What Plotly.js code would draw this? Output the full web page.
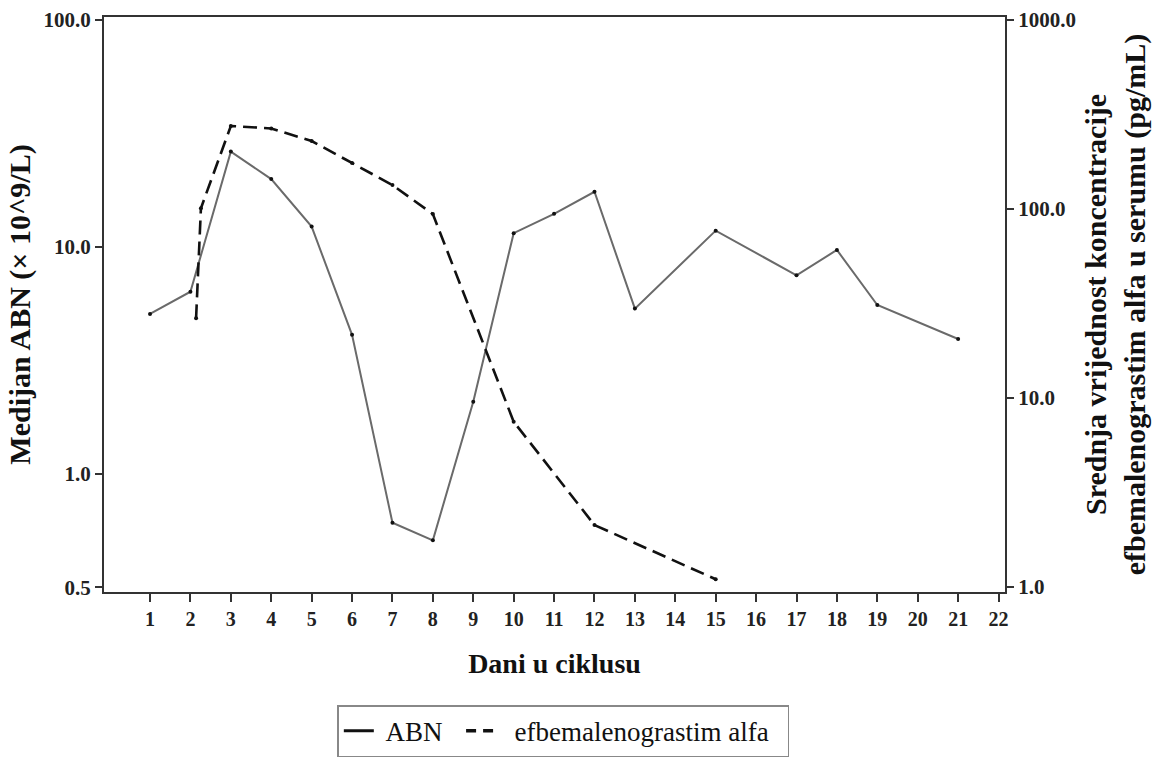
<!DOCTYPE html>
<html>
<head>
<meta charset="utf-8">
<script src="https://cdn.plot.ly/plotly-3.0.1.min.js"></script>
<style>html,body{margin:0;padding:0;background:#fff;}#chart{width:1152px;height:760px;}</style>
</head>
<body>
<div id="chart"></div>
<script>
// ABN (median, ×10^9/L) by day of cycle
const abnDays = [1, 2, 3, 4, 5, 6, 7, 8, 9, 10, 11, 12, 13, 15, 17, 18, 19, 21];
const abnValues = [5.07, 6.35, 26.3, 19.9, 12.3, 4.1, 0.61, 0.51, 2.08, 11.5, 14.0, 17.5, 5.35, 11.8, 7.5, 9.7, 5.55, 3.93];

// Mean serum efbemalenograstim alfa concentration (pg/mL)
const efbDays = [2.14, 2.26, 3, 4, 5, 6, 7, 8, 10, 12, 15];
const efbValues = [26.4, 101, 275, 267, 229, 175, 134, 94, 7.5, 2.13, 1.1];

const xTickVals = [1,2,3,4,5,6,7,8,9,10,11,12,13,14,15,16,17,18,19,20,21,22];
const xTickText = xTickVals.map(String);
const leftTickVals = [Math.pow(10,-0.5), 1, 10, 100];
const leftTickText = ["0.5", "1.0", "10.0", "100.0"];
const rightTickVals = [1, 10, 100, 1000];
const rightTickText = ["1.0", "10.0", "100.0", "1000.0"];

const seriesNames = ["ABN", "efbemalenograstim alfa"];
const xTitle = "Dani u ciklusu";
const yTitle = "Medijan ABN (× 10^9/L)";
const y2Title = "Srednja vrijednost koncentracije<br>efbemalenograstim alfa u serumu (pg/mL)";

const serif = "Liberation Serif, Times New Roman, serif";
const yTickFont = {family: serif, size: 21, color: "#222", weight: "bold"};
const xTickFont = {family: serif, size: 20, color: "#222", weight: "bold"};
const titleFont = {family: serif, size: 30, color: "#111", weight: "bold"};
const NB = "\u00a0";

const traces = [
  {
    x: abnDays, y: abnValues, name: seriesNames[0], yaxis: "y",
    type: "scatter", mode: "lines+markers", showlegend: false,
    line: {color: "#6a6a6a", width: 2},
    marker: {color: "#111", size: 4}
  },
  {
    x: efbDays, y: efbValues, name: seriesNames[1], yaxis: "y2",
    type: "scatter", mode: "lines+markers", showlegend: false,
    line: {color: "#111", width: 2.6, dash: "14px,7px"},
    marker: {color: "#111", size: 4}
  },
  // legend-only entries (black sample lines, no markers, as in the reference legend)
  {
    x: [null], y: [null], name: NB + seriesNames[0] + NB + NB, yaxis: "y",
    type: "scatter", mode: "lines",
    line: {color: "#111", width: 3}
  },
  {
    x: [null], y: [null], name: NB + NB + seriesNames[1] + NB + NB, yaxis: "y2",
    type: "scatter", mode: "lines",
    line: {color: "#111", width: 3.5, dash: "10px,7px"}
  }
];

const layout = {
  width: 1152, height: 760,
  paper_bgcolor: "#fff", plot_bgcolor: "#fff",
  margin: {l: 104, r: 147, t: 17, b: 168},
  showlegend: true,
  legend: {
    orientation: "h",
    xref: "container", yref: "container",
    x: 0.489, xanchor: "center", y: 0.072, yanchor: "top",
    bordercolor: "#888", borderwidth: 1.5,
    font: {family: serif, size: 27, color: "#111"}
  },
  xaxis: {
    range: [-0.139, 22.16],
    tickvals: xTickVals, ticktext: xTickText,
    ticks: "outside", ticklen: 8, tickwidth: 2, tickcolor: "#333",
    showline: true, linecolor: "#333", linewidth: 2, mirror: true,
    showgrid: false, zeroline: false,
    tickfont: xTickFont,
    title: {text: xTitle, font: {family: serif, size: 28, color: "#111", weight: "bold"}, standoff: 24}
  },
  yaxis: {
    type: "log", range: [-0.520, 2.013],
    tickvals: leftTickVals, ticktext: leftTickText,
    ticks: "outside", ticklen: 7, tickwidth: 2, tickcolor: "#333",
    showline: true, linecolor: "#333", linewidth: 2,
    showgrid: false, zeroline: false,
    tickfont: yTickFont,
    title: {text: yTitle, font: titleFont, standoff: 4}
  },
  yaxis2: {
    type: "log", range: [-0.026, 3.016],
    overlaying: "y", side: "right",
    tickvals: rightTickVals, ticktext: rightTickText,
    ticks: "outside", ticklen: 7, tickwidth: 2, tickcolor: "#333",
    showline: true, linecolor: "#333", linewidth: 2,
    showgrid: false, zeroline: false,
    tickfont: yTickFont,
    title: {text: y2Title, font: titleFont, standoff: 10}
  }
};

Plotly.newPlot("chart", traces, layout, {displayModeBar: false, staticPlot: true});
</script>
</body>
</html>
